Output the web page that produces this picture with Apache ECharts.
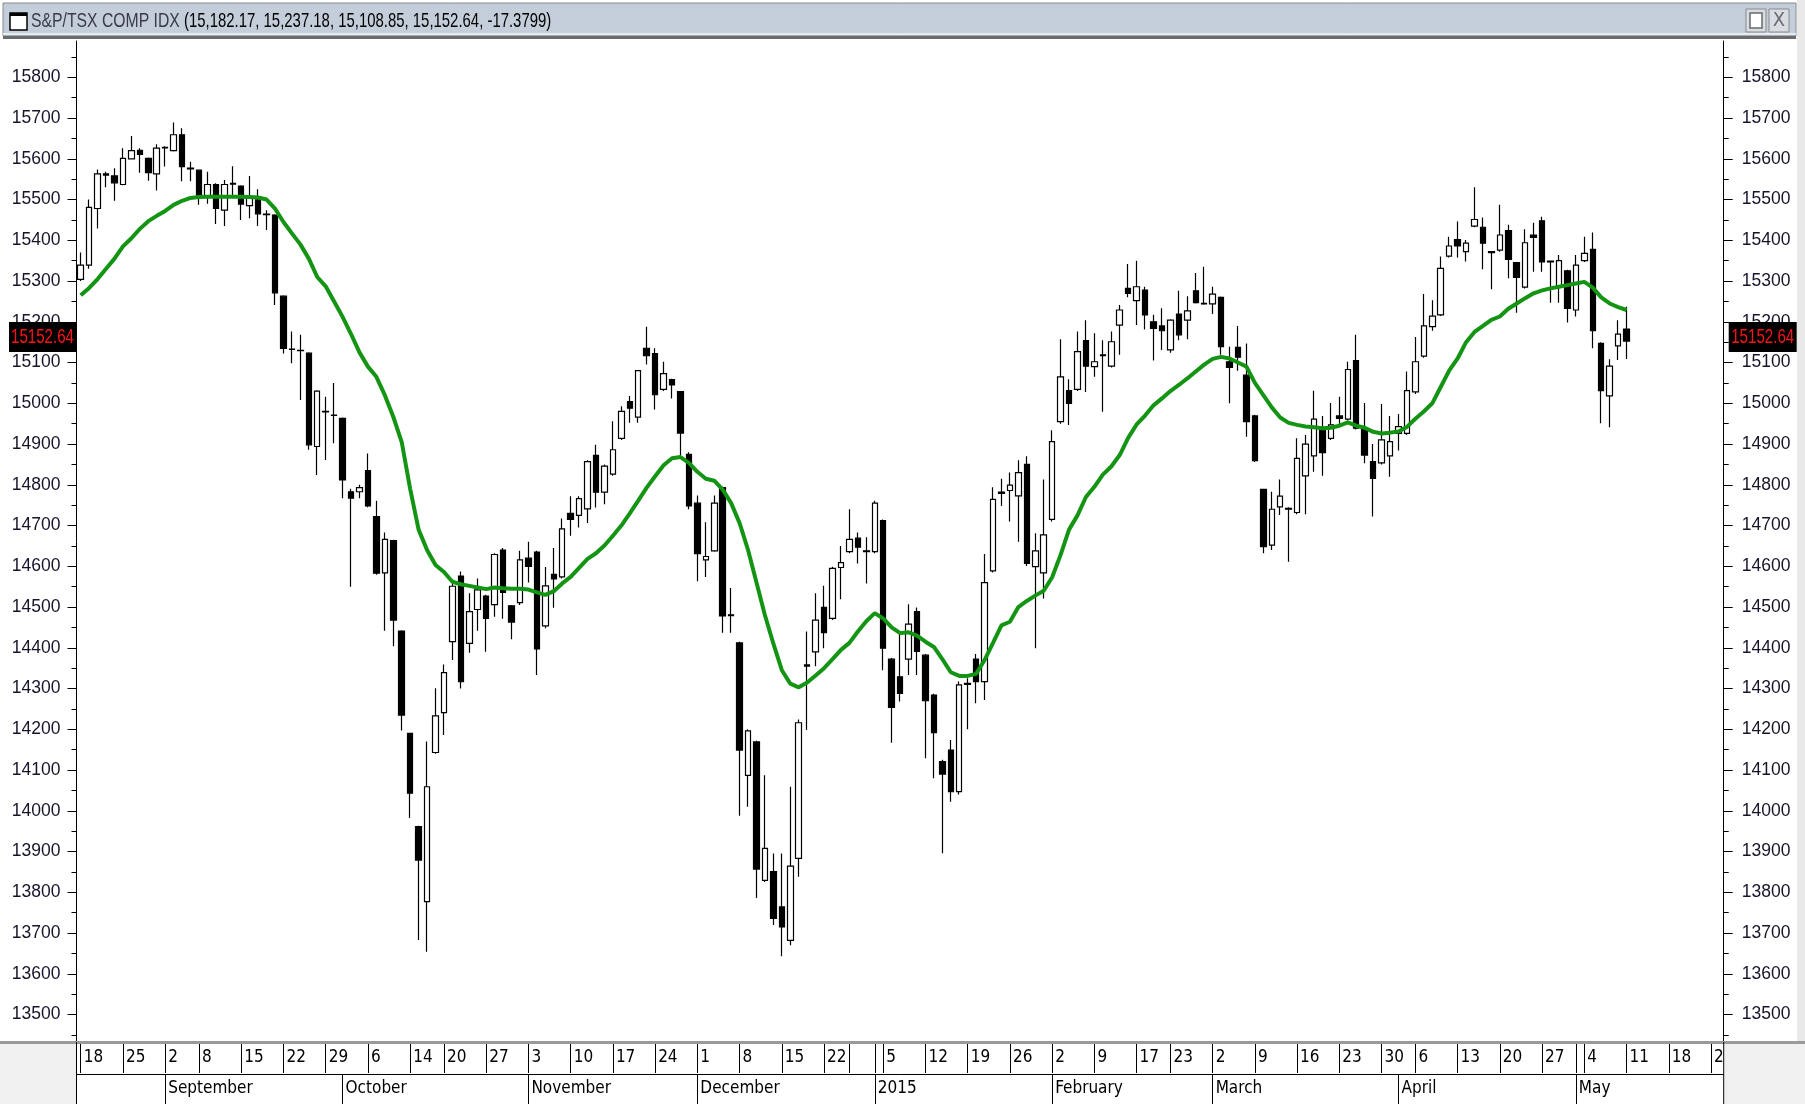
<!DOCTYPE html>
<html><head><meta charset="utf-8">
<script src="https://cdn.jsdelivr.net/npm/echarts@6/dist/echarts.min.js"></script>
<style>html,body{margin:0;padding:0;background:#fff;overflow:hidden}#c{width:1805px;height:1104px}</style>
</head><body><div id="c"></div>
<script>
// ---------- categories (trading days, incl. projected future days) ----------
const dates = [
'2014-08-18','2014-08-19','2014-08-20','2014-08-21','2014-08-22','2014-08-25','2014-08-26','2014-08-27','2014-08-28','2014-08-29',
'2014-09-02','2014-09-03','2014-09-04','2014-09-05','2014-09-08','2014-09-09','2014-09-10','2014-09-11','2014-09-12',
'2014-09-15','2014-09-16','2014-09-17','2014-09-18','2014-09-19','2014-09-22','2014-09-23','2014-09-24','2014-09-25','2014-09-26',
'2014-09-29','2014-09-30',
'2014-10-01','2014-10-02','2014-10-03','2014-10-06','2014-10-07','2014-10-08','2014-10-09','2014-10-10',
'2014-10-14','2014-10-15','2014-10-16','2014-10-17','2014-10-20','2014-10-21','2014-10-22','2014-10-23','2014-10-24',
'2014-10-27','2014-10-28','2014-10-29','2014-10-30','2014-10-31',
'2014-11-03','2014-11-04','2014-11-05','2014-11-06','2014-11-07','2014-11-10','2014-11-11','2014-11-12','2014-11-13','2014-11-14',
'2014-11-17','2014-11-18','2014-11-19','2014-11-20','2014-11-21','2014-11-24','2014-11-25','2014-11-26','2014-11-27','2014-11-28',
'2014-12-01','2014-12-02','2014-12-03','2014-12-04','2014-12-05','2014-12-08','2014-12-09','2014-12-10','2014-12-11','2014-12-12',
'2014-12-15','2014-12-16','2014-12-17','2014-12-18','2014-12-19','2014-12-22','2014-12-23','2014-12-24',
'2014-12-29','2014-12-30','2014-12-31',
'2015-01-02','2015-01-05','2015-01-06','2015-01-07','2015-01-08','2015-01-09','2015-01-12','2015-01-13','2015-01-14','2015-01-15','2015-01-16',
'2015-01-19','2015-01-20','2015-01-21','2015-01-22','2015-01-23','2015-01-26','2015-01-27','2015-01-28','2015-01-29','2015-01-30',
'2015-02-02','2015-02-03','2015-02-04','2015-02-05','2015-02-06','2015-02-09','2015-02-10','2015-02-11','2015-02-12','2015-02-13',
'2015-02-17','2015-02-18','2015-02-19','2015-02-20','2015-02-23','2015-02-24','2015-02-25','2015-02-26','2015-02-27',
'2015-03-02','2015-03-03','2015-03-04','2015-03-05','2015-03-06','2015-03-09','2015-03-10','2015-03-11','2015-03-12','2015-03-13',
'2015-03-16','2015-03-17','2015-03-18','2015-03-19','2015-03-20','2015-03-23','2015-03-24','2015-03-25','2015-03-26','2015-03-27',
'2015-03-30','2015-03-31',
'2015-04-01','2015-04-02','2015-04-06','2015-04-07','2015-04-08','2015-04-09','2015-04-10','2015-04-13','2015-04-14','2015-04-15','2015-04-16','2015-04-17',
'2015-04-20','2015-04-21','2015-04-22','2015-04-23','2015-04-24','2015-04-27','2015-04-28','2015-04-29','2015-04-30',
'2015-05-01','2015-05-04','2015-05-05','2015-05-06','2015-05-07','2015-05-08','2015-05-11',
'2015-05-12','2015-05-13','2015-05-14','2015-05-15','2015-05-18','2015-05-19','2015-05-20','2015-05-21','2015-05-22','2015-05-25','2015-05-26'
];

// ---------- OHLC values ----------
const openV = [15304,15339,15478,15563,15558,15537,15600,15621,15601,15563,
15628,15620,15659,15577,15572,15509,15537,15474,15540,15533,15485,15499,15464,15462,15263,15133,15130,15123,14894,14980,14971,
14963,14783,14783,14835,14722,14584,14663,14441,14190,13961,13777,14143,14241,14415,14576,14411,14494,14527,14506,14640,14503,14511,
14620,14635,14454,14580,14574,14730,14725,14741,14872,14782,14826,14914,15004,14966,15135,15122,15034,15058,15029,14875,
14755,14616,14638,14793,14481,14412,14087,14169,13829,13851,13764,13682,13883,14355,14390,14499,14472,14597,14636,14669,14638,
14636,14712,14372,14329,14372,14489,14382,14284,14121,14149,14047,14310,14372,14317,14589,14779,14786,14773,14850,14599,14584,
14715,14955,15031,15034,15154,15090,15117,15091,15192,15282,15252,15278,15200,15190,15131,15219,15204,15276,15245,
15244,15260,15102,15137,15069,14969,14789,14652,14746,14742,14732,14822,14871,14934,14914,14969,14961,15105,14939,14857,14854,14871,
14926,14926,15028,15116,15188,15217,15361,15402,15372,15435,15432,15372,15376,15424,15345,15285,15413,15448,15349,15286,15325,
15229,15350,15378,15147,15018,15141,15182.17];
const closeV = [15339,15481,15563,15560,15541,15601,15620,15611,15566,15626,
15627,15659,15581,15575,15511,15537,15478,15537,15538,15489,15503,15465,15463,15271,15135,15132,15129,14898,15030,14979,14970,
14812,14767,14793,14748,14583,14666,14468,14235,14043,13879,14059,14233,14339,14551,14317,14489,14542,14472,14629,14536,14463,14616,
14600,14397,14552,14569,14692,14715,14766,14857,14782,14846,14886,14980,14988,15080,15117,15021,15073,15045,14927,14748,
14631,14624,14755,14478,14479,14149,14196,13857,13908,13736,13715,13864,14216,14358,14468,14437,14595,14609,14666,14647,14636,
14755,14399,14254,14288,14458,14391,14270,14192,14090,14047,14309,14313,14317,14560,14764,14782,14799,14830,14607,14638,14677,
14906,15065,15000,15127,15091,15102,15119,15151,15229,15270,15286,15217,15184,15178,15204,15168,15227,15247,15244,
15268,15139,15088,15113,14955,14859,14648,14740,14772,14740,14865,14900,14961,14879,14947,14963,15083,14939,14873,14816,14910,14906,
14943,15031,15102,15190,15214,15331,15386,15386,15393,15451,15393,15370,15413,15353,15309,15394,15407,15347,15347,15350,15233,
15339,15368,15178,15031,15091,15170,15152.64];
const lowV = [15300,15330,15429,15530,15497,15535,15598,15566,15546,15522,
15581,15618,15545,15545,15487,15490,15440,15435,15511,15450,15454,15435,15425,15241,15122,15098,15008,14886,14824,14861,14902,
14767,14550,14767,14745,14579,14442,14404,14197,13982,13683,13654,14140,14186,14370,14300,14388,14442,14390,14476,14471,14421,14505,
14560,14333,14448,14498,14570,14675,14695,14706,14744,14752,14822,14910,14952,14952,15095,14985,15030,15012,14872,14740,
14563,14574,14636,14437,14437,13988,14010,13786,13825,13720,13643,13670,13838,14198,14355,14399,14468,14519,14632,14607,14558,
14632,14345,14167,14268,14333,14333,14129,14080,13896,14022,14040,14200,14264,14272,14585,14748,14710,14660,14601,14399,14521,
14710,14950,14947,15030,15028,15065,14979,15088,15119,15260,15192,15181,15105,15131,15124,15155,15157,15245,15242,
15219,15119,15000,15080,14918,14856,14632,14640,14726,14611,14728,14728,14832,14822,14910,14942,14958,14936,14853,14722,14850,14820,
14884,14922,15023,15112,15178,15214,15358,15358,15348,15432,15329,15280,15372,15307,15222,15282,15323,15323,15247,15247,15198,
15213,15347,15135,14951,14941,15106,15108.85];
const highV = [15370,15500,15574,15568,15577,15626,15656,15626,15603,15636,
15631,15689,15675,15593,15574,15568,15540,15548,15582,15535,15558,15525,15474,15464,15265,15176,15168,15125,15032,15016,15050,
14965,14790,14800,14877,14761,14683,14665,14443,14191,13963,14170,14301,14359,14568,14587,14534,14570,14530,14632,14645,14505,14638,
14660,14638,14598,14645,14717,14772,14772,14860,14898,14850,14956,14993,15018,15082,15188,15135,15102,15060,15030,14880,
14774,14708,14774,14795,14547,14415,14200,14172,14087,13895,13895,14059,14224,14440,14534,14552,14599,14650,14740,14683,14671,
14761,14715,14375,14440,14507,14499,14385,14287,14125,14174,14317,14325,14385,14630,14794,14815,14830,14860,14870,14681,14813,
14934,15157,15059,15176,15204,15172,15155,15176,15241,15342,15350,15286,15217,15233,15206,15276,15263,15320,15335,
15286,15262,15139,15190,15147,14972,14790,14783,14813,14745,14914,14922,15031,14969,15001,15016,15102,15168,15001,14900,14998,14969,
14974,15078,15163,15268,15253,15360,15409,15446,15401,15530,15456,15374,15487,15438,15347,15427,15443,15458,15350,15364,15328,
15364,15409,15419,15150,15108,15204,15237.18];

// ---------- moving average ----------
const maV = [15265,15283,15305,15330,15355,15385,15405,15428,15447,15460,
15472,15487,15497,15504,15506,15507,15507,15507,15507,15507,15506,15505,15500,15478,15445,15417,15390,15355,15310,15287,15250,
15212,15170,15125,15090,15065,15020,14967,14905,14790,14690,14640,14603,14586,14562,14556,14552,14548,14544,14548,14546,14545,14545,
14543,14536,14530,14539,14558,14574,14596,14618,14632,14651,14675,14700,14730,14761,14793,14821,14848,14865,14868,14854,
14832,14815,14810,14788,14755,14706,14640,14560,14480,14410,14345,14312,14303,14315,14332,14350,14372,14395,14412,14440,14465,
14485,14472,14450,14436,14438,14430,14415,14402,14372,14340,14331,14331,14336,14370,14412,14455,14464,14500,14515,14528,14540,
14573,14628,14690,14725,14770,14795,14825,14845,14873,14915,14948,14970,14995,15012,15030,15045,15061,15078,15095,
15109,15114,15110,15100,15090,15050,15020,14990,14965,14952,14947,14943,14941,14939,14940,14945,14953,14945,14940,14930,14926,14928,
14931,14942,14962,14980,15000,15040,15080,15110,15150,15175,15190,15205,15213,15232,15245,15258,15270,15277,15282,15286,15290,
15294,15298,15284,15260,15245,15236,15229];

// ---------- axis text ----------
const yTickLabels = [13500,13600,13700,13800,13900,14000,14100,14200,14300,14400,14500,14600,14700,14800,14900,15000,15100,15200,15300,15400,15500,15600,15700,15800];
const yMinorTicks = [13450,13550,13650,13750,13850,13950,14050,14150,14250,14350,14450,14550,14650,14750,14850,14950,15050,15150,15250,15350,15450,15550,15650,15750,15850];
const weekTickDates = ['2014-08-18','2014-08-25','2014-09-02','2014-09-08','2014-09-15','2014-09-22','2014-09-29','2014-10-06','2014-10-14','2014-10-20','2014-10-27',
'2014-11-03','2014-11-10','2014-11-17','2014-11-24','2014-12-01','2014-12-08','2014-12-15','2014-12-22','2014-12-29','2015-01-02','2015-01-05','2015-01-12',
'2015-01-19','2015-01-26','2015-02-02','2015-02-09','2015-02-17','2015-02-23','2015-03-02','2015-03-09','2015-03-16','2015-03-23','2015-03-30','2015-04-06',
'2015-04-13','2015-04-20','2015-04-27','2015-05-01','2015-05-04','2015-05-11','2015-05-18','2015-05-25'];
const weekTickText = ['18','25','2','8','15','22','29','6','14','20','27','3','10','17','24','1','8','15','22','','','5','12','19','26','2','9','17','23','2','9','16','23','30','6','13','20','27','','4','11','18','25'];
const monthTickDates = ['2014-09-02','2014-10-01','2014-11-03','2014-12-01','2015-01-02','2015-02-02','2015-03-02','2015-04-01','2015-05-01'];
const monthTickText = ['September','October','November','December','2015','February','March','April','May'];
const titleName = 'S&P/TSX COMP IDX';
const titleValues = '(15,182.17, 15,237.18, 15,108.85, 15,152.64, -17.3799)';
const lastClose = 15152.64;

// ---------- build ----------
const candleData = openV.map((o, i) => [o, closeV[i], lowV[i], highV[i]]);
const weekIdx = new Map(weekTickDates.map((d, k) => [dates.indexOf(d), weekTickText[k]]));
const monthIdx = new Map(monthTickDates.map((d, k) => [dates.indexOf(d), monthTickText[k]]));
const narrow = '"Liberation Sans Narrow","Arial Narrow","DejaVu Sans Condensed",sans-serif';
const sans = '"Liberation Sans",Arial,sans-serif';
const GL = 76.5, GR = 81.3, GT = 41, GB = 62;
const yMin = 13432.6, yMax = 15889.1;

const yBase = {type:'value', min:yMin, max:yMax, splitLine:{show:false}, gridIndex:0};
const yLab = {show:true, customValues:yTickLabels, formatter:(v)=>String(Math.round(v)), fontSize:17.5, fontFamily:sans, color:'#15152a'};
const option = {
  animation:false,
  backgroundColor:'#ffffff',
  grid:{left:GL, right:GR, top:GT, bottom:GB, containLabel:false},
  xAxis:[
    {type:'category', data:dates, boundaryGap:true, position:'bottom',
     axisLine:{show:true, lineStyle:{color:'#3c3c3c', width:2}},
     axisTick:{show:true, alignWithLabel:true, interval:(i)=>weekIdx.has(i), length:31, lineStyle:{color:'#000', width:1}},
     axisLabel:{show:true, interval:(i)=>weekIdx.has(i), formatter:(v, i)=>weekIdx.get(i) || '', align:'left', verticalAlign:'top',
       margin:7, padding:[0,0,0,3], fontSize:17, fontFamily:narrow, color:'#000'},
     splitLine:{show:false}},
    {type:'category', data:dates, boundaryGap:true, position:'bottom', offset:32,
     axisLine:{show:true, lineStyle:{color:'#000', width:1}},
     axisTick:{show:true, alignWithLabel:true, interval:(i)=>monthIdx.has(i), length:31, lineStyle:{color:'#000', width:1}},
     axisLabel:{show:true, interval:(i)=>monthIdx.has(i), formatter:(v, i)=>monthIdx.get(i) || '', align:'left', verticalAlign:'top',
       margin:6, padding:[0,0,0,3], fontSize:17, fontFamily:narrow, color:'#000'},
     splitLine:{show:false}}
  ],
  yAxis:[
    Object.assign({}, yBase, {position:'left',
      axisLine:{show:true, lineStyle:{color:'#000', width:1}},
      axisTick:{show:true, length:9, customValues:yTickLabels, lineStyle:{color:'#000'}},
      axisLabel:Object.assign({}, yLab, {margin:16})}),
    Object.assign({}, yBase, {position:'right',
      axisLine:{show:true, lineStyle:{color:'#000', width:1}},
      axisTick:{show:true, length:9, customValues:yTickLabels, lineStyle:{color:'#000'}},
      axisLabel:Object.assign({}, yLab, {margin:18})}),
    Object.assign({}, yBase, {position:'left', offset:0,
      axisLine:{show:false}, axisLabel:{show:false},
      axisTick:{show:true, length:5, customValues:yMinorTicks, lineStyle:{color:'#000'}}}),
    Object.assign({}, yBase, {position:'right', offset:0,
      axisLine:{show:false}, axisLabel:{show:false},
      axisTick:{show:true, length:5, customValues:yMinorTicks, lineStyle:{color:'#000'}}})
  ],
  series:[
    {type:'candlestick', name:'S&P/TSX', xAxisIndex:0, yAxisIndex:0, data:candleData, barWidth:6, z:2,
     itemStyle:{color:'#ffffff', color0:'#000000', borderColor:'#000000', borderColor0:'#000000', borderWidth:1.2}},
    {type:'line', name:'MA', xAxisIndex:0, yAxisIndex:0, data:maV, showSymbol:false, symbol:'none', z:5,
     lineStyle:{color:'#139413', width:4}}
  ]
};
const chart = echarts.init(document.getElementById('c'), null, {renderer:'canvas'});
chart.setOption(option);

const py = chart.convertToPixel({yAxisIndex:0}, lastClose);
const W = 1805, H = 1104, RX = W - GR, BY = H - GB;
chart.setOption({graphic:[
  // title bar
  {type:'rect', z:100, shape:{x:0, y:0, width:W, height:GT-1}, style:{fill:'#ffffff'}},
  {type:'rect', z:100, shape:{x:3, y:3, width:W-12, height:33}, style:{fill:'#c4cedb', stroke:'#8a8a8a', lineWidth:1}},
  {type:'rect', z:101, shape:{x:3, y:33, width:W-12, height:2}, style:{fill:'#e6ebf1'}},
  {type:'rect', z:101, shape:{x:3, y:36, width:W-12, height:3}, style:{fill:'#6a6a6a'}},
  {type:'rect', z:102, shape:{x:10, y:13, width:17, height:17}, style:{fill:'#ffffff', stroke:'#000', lineWidth:1.5}},
  {type:'rect', z:102, shape:{x:10, y:13, width:17, height:3}, style:{fill:'#000'}},
  {type:'text', z:102, x:31, y:21.5, scaleX:0.75, style:{text:titleName, x:0, y:0, fontSize:21, fontFamily:sans, fill:'#3b3b48', verticalAlign:'middle'}},
  {type:'text', z:102, x:184, y:21.5, scaleX:0.71, style:{text:titleValues, x:0, y:0, fontSize:21, fontFamily:sans, fill:'#000', verticalAlign:'middle'}},
  {type:'rect', z:102, shape:{x:1746, y:9, width:20, height:23}, style:{fill:'#d8dde3', stroke:'#8a8a8a', lineWidth:1}},
  {type:'rect', z:103, shape:{x:1750, y:13, width:12, height:15}, style:{fill:'#ffffff', stroke:'#6a6a6a', lineWidth:1.5}},
  {type:'rect', z:102, shape:{x:1769, y:9, width:20, height:23}, style:{fill:'#d8dde3', stroke:'#8a8a8a', lineWidth:1}},
  {type:'text', z:103, x:1779, y:21, style:{text:'X', x:0, y:0, fontSize:20, fontFamily:narrow, fill:'#6a6a6a', align:'center', verticalAlign:'middle'}},
  // right scrollbar strip
  {type:'rect', z:100, shape:{x:W-8, y:0, width:8, height:H}, style:{fill:'#e9e9e9'}},
  // bottom corners
  {type:'rect', z:100, shape:{x:0, y:BY+1, width:GL-0.5, height:GB}, style:{fill:'#f0f0f0'}},
  {type:'rect', z:100, shape:{x:RX+0.5, y:BY+1, width:W-RX, height:GB}, style:{fill:'#f0f0f0'}},
  {type:'rect', z:101, shape:{x:0, y:BY-1, width:W, height:3}, style:{fill:'#9a9a9a'}},
  {type:'line', z:101, shape:{x1:GL, y1:BY, x2:GL, y2:H}, style:{stroke:'#000', lineWidth:1}},
  {type:'line', z:101, shape:{x1:RX, y1:BY, x2:RX, y2:H}, style:{stroke:'#000', lineWidth:1}},
  // last value boxes
  {type:'rect', z:110, shape:{x:9, y:py-19, width:67, height:30}, style:{fill:'#000'}},
  {type:'text', z:111, x:42.5, y:py-4, scaleX:0.72, style:{text:lastClose.toFixed(2), x:0, y:0, fontSize:21, fontFamily:sans, fill:'#ff1414', align:'center', verticalAlign:'middle'}},
  {type:'rect', z:110, shape:{x:RX+5, y:py-19, width:68, height:30}, style:{fill:'#000'}},
  {type:'text', z:111, x:RX+39, y:py-4, scaleX:0.72, style:{text:lastClose.toFixed(2), x:0, y:0, fontSize:21, fontFamily:sans, fill:'#ff1414', align:'center', verticalAlign:'middle'}}
]});
</script>
</body></html>
